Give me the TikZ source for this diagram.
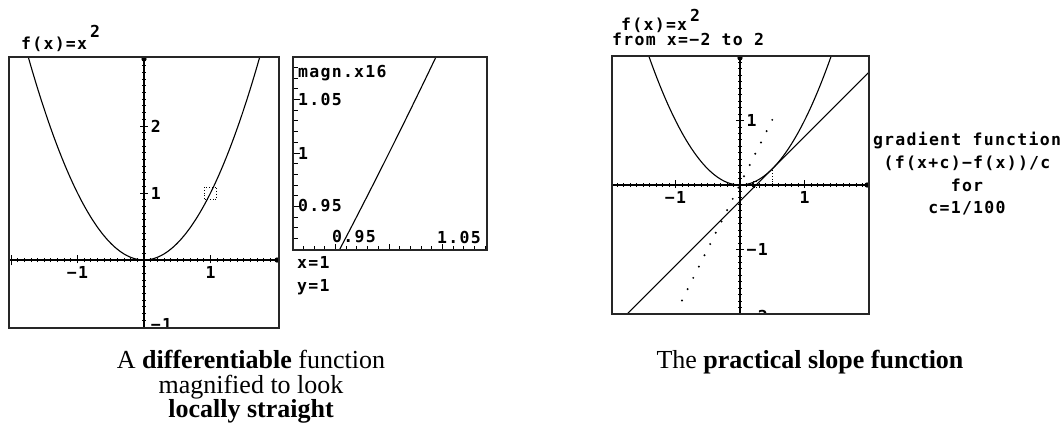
\documentclass[tikz,border=0pt]{standalone}
\usepackage{fontspec}
\setmainfont{Liberation Serif}
\newfontfamily\calcfont[LetterSpace=7.7]{DejaVu Sans Mono}
\newcommand\ttlfont{\calcfont\bfseries\fontsize{16.5}{15.5}\selectfont\lineskiplimit=-50pt\relax}
\usetikzlibrary{positioning}

\begin{document}
\begin{tikzpicture}[x=1pt,y=-1pt,
  scr/.style={font=\calcfont\bfseries\fontsize{16.5}{22.7}\selectfont,inner sep=0pt},
  ttl/.style={scr,align=left,font=\ttlfont},
  captxt/.style={font=\fontsize{26}{24.5}\selectfont,inner sep=0pt,anchor=base},
  frame/.style={draw=black!85,line width=1.3pt},
  curve/.style={line width=1.1pt},
  axis/.style={line width=1.1pt},
  tick/.style={line width=0.9pt},
  dotbox/.style={dotted,line width=0.8pt}]

\useasboundingbox (0,0) rectangle (1063,424);

% left screen: f(x)=x^2
\begin{scope}[shift={(144,260)},x=66.5pt,y=67pt]
  \clip (-2.03,-1) rectangle (2.03,3.03);
  \draw[axis] (-2.03,0) -- (2.03,0);
  \draw[axis] (0,-1) -- (0,3.03);
  \foreach \i in {-20,...,20} \draw[tick] (\i/10,-0.03) -- (\i/10,0.03);
  \foreach \i in {-10,...,30} \draw[tick] (-0.03,\i/10) -- (0.03,\i/10);
  \foreach \i in {-1,1} \draw[tick] (\i,-0.05) -- (\i,0.08);
  \foreach \i in {1,2} \draw[tick] (-0.06,\i) -- (0.06,\i);
  \draw[tick] (-2.0,-0.08) -- (-2.0,0.08);
  \fill (2.0,0) circle (2.6pt);
  \fill (0,3.0) circle (2.6pt);
  \draw[curve] plot[domain=-1.75:1.75,samples=90] (\x,{\x*\x});
  \draw[dotbox] (0.91,0.91) rectangle (1.09,1.09);
  \node[scr] (lxm) at (-1,-0.19) {−1};
  \node[scr] (lxp) at (1,-0.19) {1};
  \node[scr,anchor=west] (ly2) at (0.1,2) {2};
  \node[scr,anchor=west] (ly1) at (0.1,1) {1};
  \node[scr,anchor=west] (lym) at (0.1,-0.96) {−1};
\end{scope}
\draw[frame] (9,57) rectangle (279,328);
\node[ttl,anchor=south west] (ltitle) at (21,52) {f(x)=x\hspace{3pt}\raisebox{12pt}{2}};

% magnified screen
\begin{scope}[shift={(-681,1223)},x=1070pt,y=1070pt]
  \clip (0.911,0.909) rectangle (1.092,1.0897);
  \foreach \i in {92,...,108} \draw[tick] (0.911,\i/100) -- ++(4pt,0);
  \foreach \i in {92,...,109} \draw[tick] (\i/100,0.909) -- ++(0,4pt);
  \foreach \i in {95,100,105} \draw[tick] (0.911,\i/100) -- ++(6pt,0);
  \foreach \i in {95,100,105} \draw[tick] (\i/100,0.909) -- ++(0,6pt);
  \draw[curve] plot[domain=0.95:1.047,samples=20] (\x,{\x*\x});
\end{scope}
\draw[frame] (293,57) rectangle (487,250);
\node[scr,anchor=west] (mag) at (298,73) {magn.x16};
\node[scr,anchor=west] (my3) at (298,99) {1.05};
\node[scr,anchor=west] (my2) at (298,153) {1};
\node[scr,anchor=west] (my1) at (298,206) {0.95};
\node[scr,anchor=west] (mx1) at (332,237) {0.95};
\node[scr,anchor=west] (mx2) at (437,237) {1.05};
\node[scr,anchor=west] (px) at (297,262) {x=1};
\node[scr,anchor=west] (py) at (297,287) {y=1};

% right screen: practical slope function
\begin{scope}[shift={(740,185)},x=64.5pt,y=64.5pt]
  \clip (-1.98,-2) rectangle (1.99,2.0);
  \draw[axis] (-1.98,0) -- (1.99,0);
  \draw[axis] (0,-2) -- (0,2);
  \foreach \i in {-20,...,20} \draw[tick] (\i/10,-0.03) -- (\i/10,0.03);
  \foreach \i in {-20,...,20} \draw[tick] (-0.03,\i/10) -- (0.03,\i/10);
  \foreach \i in {-1,1} \draw[tick] (\i,-0.05) -- (\i,0.08);
  \foreach \i in {-1,1} \draw[tick] (-0.06,\i) -- (0.06,\i);
  \fill (1.97,0) circle (2.6pt);
  \fill (0,1.97) circle (2.6pt);
  \draw[curve] plot[domain=-1.45:1.45,samples=90] (\x,{\x*\x});
  \draw[curve] (-1.75,-2) -- (2.0,1.75);
  \draw[dotbox] (0.5,0) -- (0.5,0.25);
  \draw[dotbox] (0.21,-0.03) rectangle (0.3,0.06);
  \foreach \k in {0,...,16}
    \fill ({-0.9+\k*0.0875},{2*(-0.9+\k*0.0875)+0.01}) circle (1.1pt);
  \node[scr] (rxm) at (-1,-0.19) {−1};
  \node[scr] (rxp) at (1,-0.19) {1};
  \node[scr,anchor=west] (ry1) at (0.1,1) {1};
  \node[scr,anchor=west] (rym) at (0.1,-1) {−1};
  \node[scr,anchor=west] (rym2) at (0.1,-2.03) {−2};
\end{scope}
\draw[frame] (612,56) rectangle (869,314);
\node[ttl,anchor=south west] (rtitle) at (612,46)
  {\hspace{9pt}f(x)=x\hspace{3pt}\raisebox{9pt}{2}\\from x=−2 to 2};
\node[scr,align=center] (grad) at (967,174) {gradient function\\(f(x+c)−f(x))/c\\for\\c=1/100};

% captions
\node[captxt] (capa) at (251,368) {A \textbf{differentiable} function};
\node[captxt] (capb) at (251,393) {magnified to look};
\node[captxt] (capc) at (251,417) {\textbf{locally straight}};
\node[captxt] (capr) at (810,368) {The \textbf{practical slope function}};
\end{tikzpicture}
\end{document}
